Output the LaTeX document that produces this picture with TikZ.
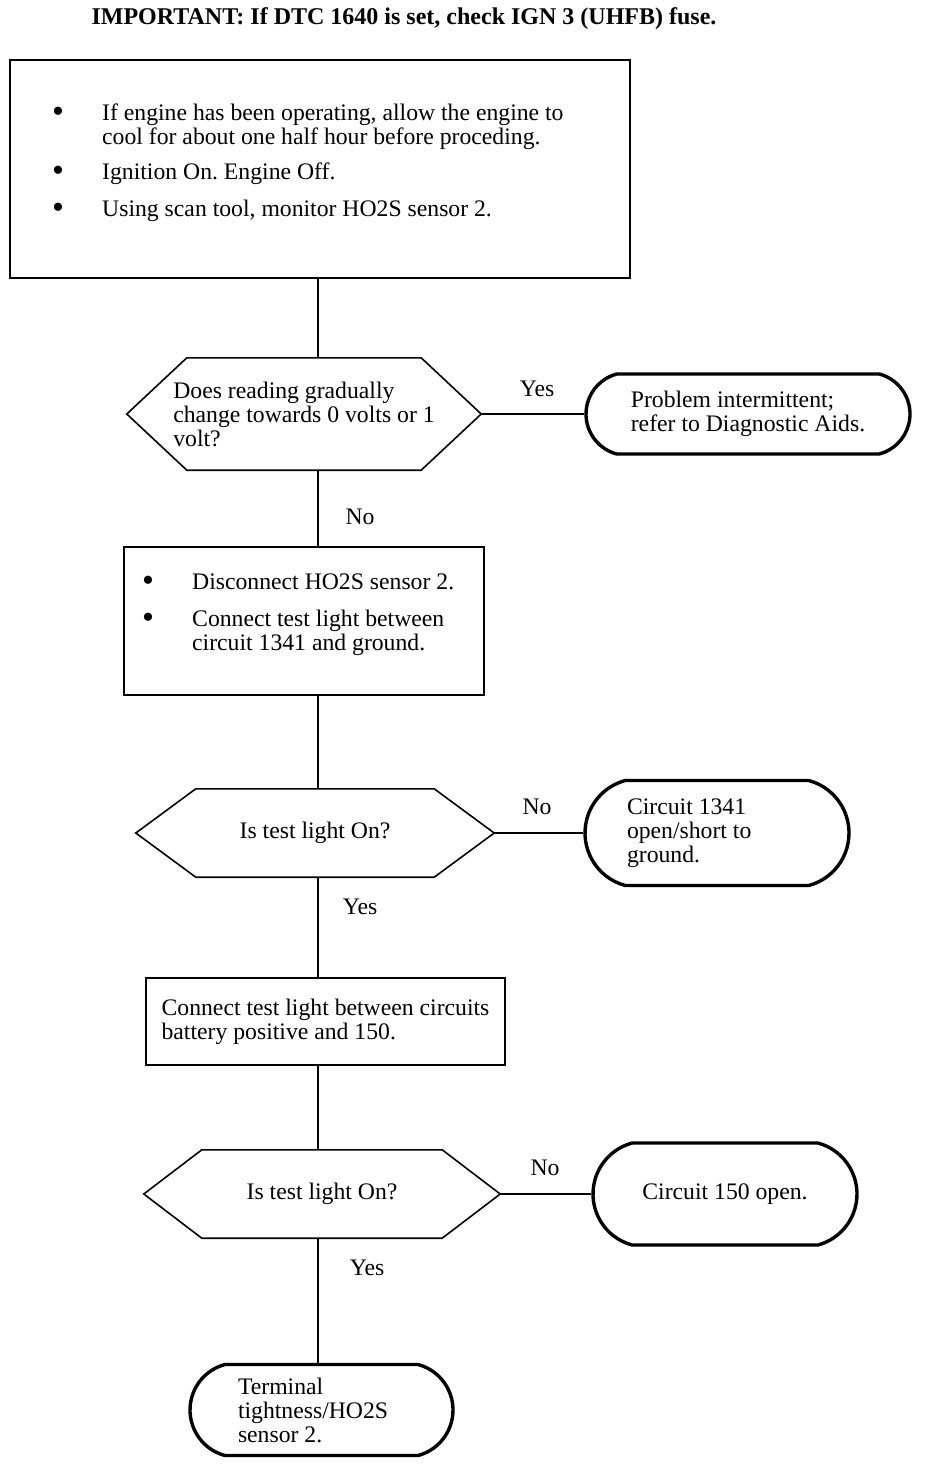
\documentclass[tikz,border=0pt]{standalone}
\usepackage{fontspec}
\setmainfont{Liberation Serif}
\frenchspacing
\usetikzlibrary{positioning, shapes.misc}

\tikzset{
  box/.style={draw, line width=1.6pt, rectangle, inner sep=0pt, align=left},
  termbox/.style={draw, line width=3.4pt, rounded rectangle, rounded rectangle arc length=150, inner sep=0pt, align=flush left},
  quest/.style={rectangle, inner sep=0pt, align=left},
  txt/.style={inner sep=0pt, anchor=base west, align=left},
  lbl/.style={inner sep=0pt, anchor=base},
  link/.style={line width=1.4pt},
  hexline/.style={line width=1.6pt, line join=miter},
}
% hexagon round a question node: #1 name, #2 chamfer
\newcommand{\hexframe}[2]{%
  \draw[hexline] (#1.west) -- ([xshift=#2]#1.north west) -- ([xshift=-#2]#1.north east)
    -- (#1.east) -- ([xshift=-#2]#1.south east) -- ([xshift=#2]#1.south west) -- cycle;}
\newcommand{\dotmark}{\raisebox{-2.5pt}{\fontsize{34}{24}\selectfont\textbullet}}

\begin{document}
\begin{tikzpicture}[x=1pt, y=-1pt, font=\fontsize{23.7}{24}\selectfont]
\useasboundingbox (0,0) rectangle (928,1464);
\fill[white] (0,0) rectangle (928,1464);
\coordinate (spine) at (318,0);

% title
\node[lbl, font=\fontsize{24}{24}\selectfont\bfseries] (title) at (404,25)
  {IMPORTANT: If DTC 1640 is set, check IGN 3 (UHFB) fuse.};

% first step
\node[box, minimum width=620, minimum height=218] (step1) at (320,169) {};
\node[txt] (step1txt) at (52,120) {\begin{tabular}[t]{@{}p{50pt}@{}l@{}}
  \dotmark & If engine has been operating, allow the engine to\\
   & cool for about one half hour before proceding.\\[11pt]
  \dotmark & Ignition On. Engine Off.\\[13pt]
  \dotmark & Using scan tool, monitor HO2S sensor 2.
  \end{tabular}};

% reading question
\node[quest, minimum width=354, minimum height=112] (ask1) at (304,414)
  {Does reading gradually\\change towards 0 volts or 1\\volt?};
\hexframe{ask1}{60}
\node[termbox, minimum width=324, minimum height=80] (end1) at (748,414)
  {Problem intermittent;\\refer to Diagnostic Aids.};

% disconnect sensor
\node[box, minimum width=360, minimum height=148] (step2) at (304,621) {};
\node[txt] (step2txt) at (142,589) {\begin{tabular}[t]{@{}p{50pt}@{}l@{}}
  \dotmark & Disconnect HO2S sensor 2.\\[13pt]
  \dotmark & Connect test light between\\
   & circuit 1341 and ground.
  \end{tabular}};

% first light test
\node[quest, minimum width=358, minimum height=88] (ask2) at (315,833) {Is test light On?};
\hexframe{ask2}{60}
\node[termbox, minimum width=264, minimum height=105, text width=180] (end2) at (717,833)
  {Circuit 1341\\open/short to\\ground.};

% battery positive
\node[box, minimum width=359, minimum height=87] (step3) at (325.5,1021.5)
  {Connect test light between circuits\\battery positive and 150.};

% second light test
\node[quest, minimum width=356, minimum height=88] (ask3) at (322,1194) {Is test light On?};
\hexframe{ask3}{58}
\node[termbox, minimum width=264, minimum height=102] (end3) at (725,1194) {Circuit 150 open.};
\node[termbox, minimum width=263, minimum height=91, text width=167] (end4) at (321.5,1410)
  {Terminal\\tightness/HO2S\\sensor 2.};

% connectors
\draw[link] (spine |- step1.south) -- (spine |- ask1.north);
\draw[link] (ask1.east) -- (end1.west);
\draw[link] (spine |- ask1.south) -- (spine |- step2.north);
\draw[link] (spine |- step2.south) -- (spine |- ask2.north);
\draw[link] (ask2.east) -- (end2.west);
\draw[link] (spine |- ask2.south) -- (spine |- step3.north);
\draw[link] (spine |- step3.south) -- (spine |- ask3.north);
\draw[link] (ask3.east) -- (end3.west);
\draw[link] (spine |- ask3.south) -- (spine |- end4.north);

% answers
\node[lbl] (yes1) at (537,396) {Yes};
\node[lbl] (no1) at (360,524) {No};
\node[lbl] (no2) at (537,814) {No};
\node[lbl] (yes2) at (360,914) {Yes};
\node[lbl] (no3) at (545,1175) {No};
\node[lbl] (yes3) at (367,1275) {Yes};
\end{tikzpicture}
\end{document}
